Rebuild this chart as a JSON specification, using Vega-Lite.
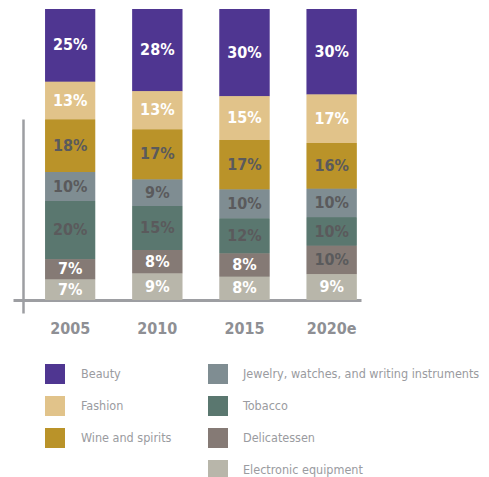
{
  "$schema": "https://vega.github.io/schema/vega-lite/v6.json",
  "width": 348,
  "height": 304,
  "autosize": {"type": "none"},
  "padding": {"left": 13, "top": 9, "right": 128, "bottom": 164},
  "background": "white",
  "config": {
    "view": {"stroke": null},
    "font": "DejaVu Sans Condensed, Liberation Sans Narrow, Roboto, sans-serif",
    "legend": {
      "orient": "none",
      "title": null,
      "symbolType": "square",
      "symbolSize": 400,
      "symbolStrokeWidth": 0,
      "rowPadding": 12,
      "labelFontSize": 12.5,
      "labelColor": "#9a9ba0",
      "labelLimit": 300,
      "padding": 0
    }
  },
  "data": {
    "values": [
      {"year": "2005", "category": "Beauty", "value": 25},
      {"year": "2005", "category": "Fashion", "value": 13},
      {"year": "2005", "category": "Wine and spirits", "value": 18},
      {"year": "2005", "category": "Jewelry, watches, and writing instruments", "value": 10},
      {"year": "2005", "category": "Tobacco", "value": 20},
      {"year": "2005", "category": "Delicatessen", "value": 7},
      {"year": "2005", "category": "Electronic equipment", "value": 7},
      {"year": "2010", "category": "Beauty", "value": 28},
      {"year": "2010", "category": "Fashion", "value": 13},
      {"year": "2010", "category": "Wine and spirits", "value": 17},
      {"year": "2010", "category": "Jewelry, watches, and writing instruments", "value": 9},
      {"year": "2010", "category": "Tobacco", "value": 15},
      {"year": "2010", "category": "Delicatessen", "value": 8},
      {"year": "2010", "category": "Electronic equipment", "value": 9},
      {"year": "2015", "category": "Beauty", "value": 30},
      {"year": "2015", "category": "Fashion", "value": 15},
      {"year": "2015", "category": "Wine and spirits", "value": 17},
      {"year": "2015", "category": "Jewelry, watches, and writing instruments", "value": 10},
      {"year": "2015", "category": "Tobacco", "value": 12},
      {"year": "2015", "category": "Delicatessen", "value": 8},
      {"year": "2015", "category": "Electronic equipment", "value": 8},
      {"year": "2020e", "category": "Beauty", "value": 30},
      {"year": "2020e", "category": "Fashion", "value": 17},
      {"year": "2020e", "category": "Wine and spirits", "value": 16},
      {"year": "2020e", "category": "Jewelry, watches, and writing instruments", "value": 10},
      {"year": "2020e", "category": "Tobacco", "value": 10},
      {"year": "2020e", "category": "Delicatessen", "value": 10},
      {"year": "2020e", "category": "Electronic equipment", "value": 9}
    ]
  },
  "transform": [
    {"calculate": "indexof(['Electronic equipment','Delicatessen','Tobacco','Jewelry, watches, and writing instruments','Wine and spirits','Fashion','Beauty'], datum.category)", "as": "ord"},
    {"stack": "value", "groupby": ["year"], "sort": [{"field": "ord", "order": "ascending"}], "offset": "normalize", "as": ["y0", "y1"]},
    {"calculate": "(datum.y0 + datum.y1) / 2", "as": "ymid"},
    {"calculate": "datum.value + '%'", "as": "label"}
  ],
  "encoding": {
    "x": {
      "field": "year",
      "type": "nominal",
      "sort": ["2005", "2010", "2015", "2020e"],
      "scale": {"paddingInner": 0.427, "paddingOuter": 0.21, "align": 0.88},
      "axis": {
        "title": null,
        "labelAngle": 0,
        "ticks": false,
        "domainColor": "#9d9ea2",
        "domainWidth": 3,
        "offset": -13,
        "labelPadding": 20,
        "labelFontSize": 16,
        "labelFontWeight": "bold",
        "labelColor": "#8e8f94"
      }
    },
    "y": {
      "field": "y0",
      "type": "quantitative",
      "scale": {"domain": [-0.0447, 1], "nice": false, "zero": false},
      "axis": {
        "title": null,
        "labels": false,
        "ticks": false,
        "grid": false,
        "domainColor": "#9d9ea2",
        "domainWidth": 2.5,
        "offset": -10,
        "domainDash": [194, 1000]
      }
    },
    "y2": {"field": "y1"}
  },
  "layer": [
    {
      "mark": {"type": "bar"},
      "encoding": {
        "color": {
          "field": "category",
          "type": "nominal",
          "scale": {
            "domain": ["Beauty", "Fashion", "Wine and spirits", "Jewelry, watches, and writing instruments", "Tobacco", "Delicatessen", "Electronic equipment"],
            "range": ["#4f3691", "#e1c38a", "#ba9329", "#7f8d92", "#5a776f", "#857a75", "#b8b6aa"]
          },
          "legend": {
            "values": ["Beauty", "Fashion", "Wine and spirits"],
            "legendX": 32,
            "legendY": 355,
            "labelOffset": 16
          }
        }
      }
    },
    {
      "mark": {"type": "bar"},
      "encoding": {
        "fill": {
          "field": "category",
          "type": "nominal",
          "scale": {
            "domain": ["Jewelry, watches, and writing instruments", "Tobacco", "Delicatessen", "Electronic equipment", "Beauty", "Fashion", "Wine and spirits"],
            "range": ["#7f8d92", "#5a776f", "#857a75", "#b8b6aa", "#4f3691", "#e1c38a", "#ba9329"]
          },
          "legend": {
            "values": ["Jewelry, watches, and writing instruments", "Tobacco", "Delicatessen", "Electronic equipment"],
            "legendX": 195,
            "legendY": 355,
            "labelOffset": 15
          }
        }
      }
    },
    {
      "mark": {"type": "text", "fontSize": 16, "fontWeight": "bold", "baseline": "middle"},
      "encoding": {
        "y": {"field": "ymid", "type": "quantitative"},
        "y2": null,
        "text": {"field": "label"},
        "color": {
          "condition": {
            "test": "indexof(['Wine and spirits','Jewelry, watches, and writing instruments','Tobacco'], datum.category) >= 0 || (datum.category === 'Delicatessen' && datum.year === '2020e')",
            "value": "#5a5a5c"
          },
          "value": "white"
        }
      }
    }
  ]
}
